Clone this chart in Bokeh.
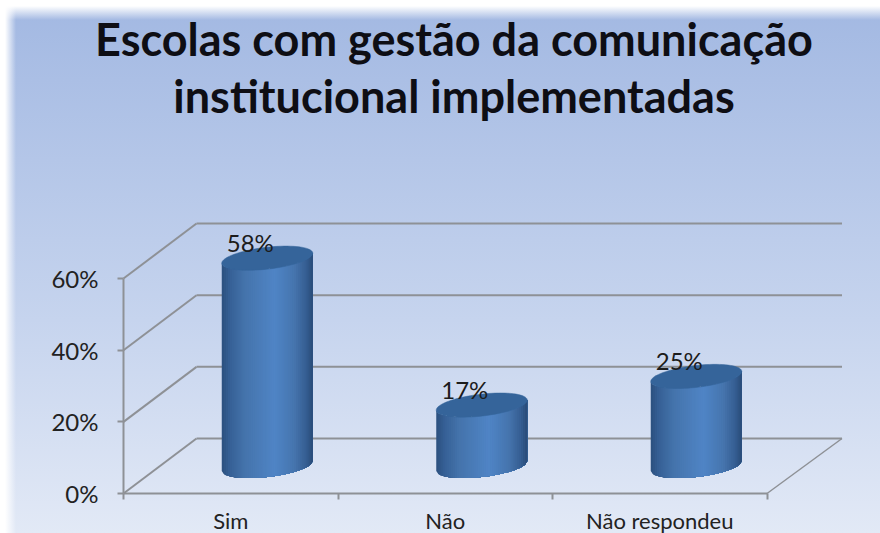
import numpy as np
from bokeh.plotting import figure
from bokeh.models import Range1d, LinearAxis, FixedTicker
from bokeh.embed import file_html
from bokeh.resources import INLINE

title_lines = ["Escolas com gestão da comunicação", "institucional implementadas"]
categories = ["Sim", "Não", "Não respondeu"]
values = [58, 17, 25]
value_labels = ["58%", "17%", "25%"]
y_ticks = [0, 20, 40, 60]

# layout, in reference pixels
X0, Y0, PER_CAT, PER_PCT = 123, 493, 214.5, 3.583
W, H = 880, 533
DX = 73 / PER_CAT      # depth shift, in category units
DY = 55 / PER_PCT      # depth shift, in percent units
n = len(categories)

def cx(px): return (px - X0) / PER_CAT
def vy(py): return (Y0 - py) / PER_PCT

p = figure(width=W, height=H, output_backend="svg", toolbar_location=None,
           x_axis_type=None, y_axis_type=None,
           x_range=Range1d(cx(0), cx(W)), y_range=Range1d(vy(H), vy(0)),
           min_border=0,
           border_fill_color=None, background_fill_color=None, outline_line_color=None)
p.grid.visible = False
p.styles = {
    "background": "linear-gradient(to right, #fff 5px, rgba(255,255,255,0) 16px),"
                  "linear-gradient(to bottom, #fff 6px, rgba(255,255,255,0) 20px),"
                  "linear-gradient(to bottom, #A2B8E2 0%, #C6D4EE 60%, #E2E9F6 100%)",
    "filter": "blur(0.6px)",
}

GRID = "#8E9196"
RIGHT_END = n + DX + 2 / PER_CAT
# walls and floor
for t in y_ticks:
    p.line([0, DX], [t, t + DY], line_color=GRID, line_width=2)
    p.line([DX, RIGHT_END], [t + DY, t + DY], line_color=GRID, line_width=2)
p.line([n, RIGHT_END], [0, DY], line_color=GRID, line_width=1.5)

# cylinders
A = 45.5 / PER_CAT
B = 11.0 / PER_PCT
SHEAR = 5.0 / PER_PCT
STOPS_T = [0.0, 0.08, 0.25, 0.58, 0.8, 0.93, 1.0]
STOPS_C = [(0x2C, 0x50, 0x7E), (0x35, 0x5F, 0x94), (0x45, 0x74, 0xAC), (0x50, 0x85, 0xC6),
           (0x46, 0x75, 0xAE), (0x35, 0x5E, 0x92), (0x2A, 0x4C, 0x78)]
N = 44
for i, v in enumerate(values):
    c = i + 0.5 + DX / 2
    b0 = DY / 2
    u = np.linspace(-1, 1, N + 1)
    arc = lambda q: -np.sqrt(np.clip(1 - q * q, 0, 1)) * B + SHEAR * q
    for k in range(N):
        q0 = u[k]
        tm = (q0 + u[k + 1] + 2) / 4
        rgb = [int(np.interp(tm, STOPS_T, [s[j] for s in STOPS_C])) for j in range(3)]
        col = "#%02x%02x%02x" % tuple(rgb)
        q = u[k:]
        xs = c + A * np.concatenate([q, q[::-1]])
        ys = b0 + np.concatenate([v + arc(q), arc(q[::-1])])
        p.patch(xs, ys, fill_color=col, line_color=None)
    th = np.linspace(0, 2 * np.pi, 80)
    p.patch(c + A * np.cos(th), v + b0 + B * np.sin(th) + SHEAR * np.cos(th),
            fill_color="#35649A", line_color="#35649A", line_width=0.5)
    p.text([c - 17 / PER_CAT], [v + b0 + 16 / PER_PCT], text=[value_labels[i]],
           text_align="center", text_baseline="middle", text_font={"value": "Lato"},
           text_font_size="24px", text_color="#1c1c1c")

# axes
ax_y = LinearAxis(fixed_location=0, ticker=FixedTicker(ticks=y_ticks), bounds=(0, 60),
                  major_label_overrides={t: f"{t}%" for t in y_ticks},
                  axis_line_color=GRID, axis_line_width=2,
                  major_tick_line_color=GRID, major_tick_line_width=2,
                  major_tick_in=0, major_tick_out=6, minor_tick_line_color=None,
                  major_label_standoff=19, major_label_text_font="Lato",
                  major_label_text_font_size="24px", major_label_text_color="#222222")
p.add_layout(ax_y, "left")

ax_x = LinearAxis(fixed_location=0, bounds=(0, n),
                  ticker=FixedTicker(ticks=[i + 0.5 for i in range(n)], minor_ticks=list(range(n + 1))),
                  major_label_overrides={i + 0.5: c for i, c in enumerate(categories)},
                  axis_line_color=GRID, axis_line_width=2,
                  major_tick_line_color=None,
                  minor_tick_line_color=GRID, minor_tick_line_width=2,
                  minor_tick_in=0, minor_tick_out=6,
                  major_label_standoff=7, major_label_text_font="Lato",
                  major_label_text_font_size="22px", major_label_text_color="#222222")
p.add_layout(ax_x, "below")

# title
for line, base in zip(title_lines, [38, 95]):
    p.text([cx(453.5)], [vy(base)], text=[line], text_align="center",
           text_baseline="alphabetic", text_font={"value": "Lato"}, text_font_style="bold",
           text_font_size="45px", text_color="#0e0e14")

open("out.html", "w").write(file_html(p, INLINE))
